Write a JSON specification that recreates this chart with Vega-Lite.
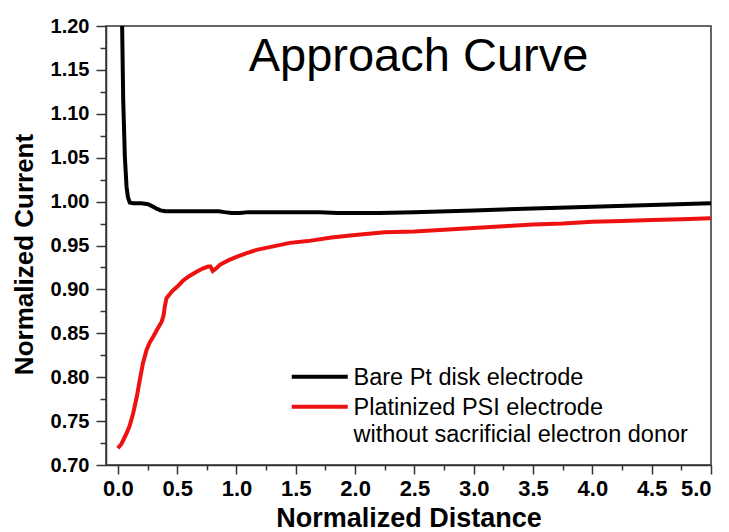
{
  "$schema": "https://vega.github.io/schema/vega-lite/v6.json",
  "width": 605,
  "height": 439,
  "autosize": "none",
  "padding": {"left": 106, "top": 26, "right": 18, "bottom": 67},
  "background": "white",
  "title": {
    "text": "Approach Curve",
    "font": "Liberation Sans",
    "fontSize": 47,
    "fontWeight": "normal",
    "color": "#000000",
    "anchor": "middle",
    "baseline": "alphabetic",
    "offset": -46,
    "dy": 56,
    "dx": 10
  },
  "config": {
    "view": {"stroke": "#333333", "strokeWidth": 1.5},
    "axis": {
      "domainColor": "#333333",
      "domainWidth": 1.5,
      "tickColor": "#333333",
      "tickWidth": 1.5,
      "grid": false,
      "labelFont": "Liberation Sans",
      "labelFontWeight": "bold",
      "labelFontSize": 20,
      "labelColor": "#000000",
      "titleFont": "Liberation Sans",
      "titleFontWeight": "bold",
      "titleFontSize": 25,
      "titleColor": "#000000",
      "labelOverlap": false
    }
  },
  "data": {
    "values": [
      {"series": "Bare Pt disk electrode", "d": 0.034, "i": 1.24},
      {"series": "Bare Pt disk electrode", "d": 0.036, "i": 1.2},
      {"series": "Bare Pt disk electrode", "d": 0.045, "i": 1.116},
      {"series": "Bare Pt disk electrode", "d": 0.059, "i": 1.051},
      {"series": "Bare Pt disk electrode", "d": 0.073, "i": 1.017},
      {"series": "Bare Pt disk electrode", "d": 0.085, "i": 1.005},
      {"series": "Bare Pt disk electrode", "d": 0.1, "i": 0.999},
      {"series": "Bare Pt disk electrode", "d": 0.129, "i": 0.998},
      {"series": "Bare Pt disk electrode", "d": 0.2, "i": 0.998},
      {"series": "Bare Pt disk electrode", "d": 0.255, "i": 0.997},
      {"series": "Bare Pt disk electrode", "d": 0.3, "i": 0.994},
      {"series": "Bare Pt disk electrode", "d": 0.326, "i": 0.992},
      {"series": "Bare Pt disk electrode", "d": 0.36, "i": 0.99},
      {"series": "Bare Pt disk electrode", "d": 0.4, "i": 0.989},
      {"series": "Bare Pt disk electrode", "d": 0.6, "i": 0.989},
      {"series": "Bare Pt disk electrode", "d": 0.85, "i": 0.989},
      {"series": "Bare Pt disk electrode", "d": 0.9, "i": 0.988},
      {"series": "Bare Pt disk electrode", "d": 0.96, "i": 0.987},
      {"series": "Bare Pt disk electrode", "d": 1.03, "i": 0.987},
      {"series": "Bare Pt disk electrode", "d": 1.1, "i": 0.988},
      {"series": "Bare Pt disk electrode", "d": 1.4, "i": 0.988},
      {"series": "Bare Pt disk electrode", "d": 1.7, "i": 0.988},
      {"series": "Bare Pt disk electrode", "d": 1.85, "i": 0.987},
      {"series": "Bare Pt disk electrode", "d": 2.2, "i": 0.987},
      {"series": "Bare Pt disk electrode", "d": 2.5, "i": 0.988},
      {"series": "Bare Pt disk electrode", "d": 3.0, "i": 0.99},
      {"series": "Bare Pt disk electrode", "d": 3.5, "i": 0.992},
      {"series": "Bare Pt disk electrode", "d": 4.0, "i": 0.994},
      {"series": "Bare Pt disk electrode", "d": 4.5, "i": 0.996},
      {"series": "Bare Pt disk electrode", "d": 5.0, "i": 0.998},
      {"series": "Platinized PSI electrode without sacrificial electron donor", "d": 0.0, "i": 0.719},
      {"series": "Platinized PSI electrode without sacrificial electron donor", "d": 0.03, "i": 0.724},
      {"series": "Platinized PSI electrode without sacrificial electron donor", "d": 0.073, "i": 0.736},
      {"series": "Platinized PSI electrode without sacrificial electron donor", "d": 0.1, "i": 0.745},
      {"series": "Platinized PSI electrode without sacrificial electron donor", "d": 0.129, "i": 0.759},
      {"series": "Platinized PSI electrode without sacrificial electron donor", "d": 0.16, "i": 0.778},
      {"series": "Platinized PSI electrode without sacrificial electron donor", "d": 0.185, "i": 0.797},
      {"series": "Platinized PSI electrode without sacrificial electron donor", "d": 0.21, "i": 0.815},
      {"series": "Platinized PSI electrode without sacrificial electron donor", "d": 0.242, "i": 0.831},
      {"series": "Platinized PSI electrode without sacrificial electron donor", "d": 0.27, "i": 0.84},
      {"series": "Platinized PSI electrode without sacrificial electron donor", "d": 0.298, "i": 0.846},
      {"series": "Platinized PSI electrode without sacrificial electron donor", "d": 0.33, "i": 0.854},
      {"series": "Platinized PSI electrode without sacrificial electron donor", "d": 0.368, "i": 0.863},
      {"series": "Platinized PSI electrode without sacrificial electron donor", "d": 0.385, "i": 0.87},
      {"series": "Platinized PSI electrode without sacrificial electron donor", "d": 0.395, "i": 0.88},
      {"series": "Platinized PSI electrode without sacrificial electron donor", "d": 0.41, "i": 0.89},
      {"series": "Platinized PSI electrode without sacrificial electron donor", "d": 0.44, "i": 0.895},
      {"series": "Platinized PSI electrode without sacrificial electron donor", "d": 0.466, "i": 0.899},
      {"series": "Platinized PSI electrode without sacrificial electron donor", "d": 0.5, "i": 0.903},
      {"series": "Platinized PSI electrode without sacrificial electron donor", "d": 0.55, "i": 0.91},
      {"series": "Platinized PSI electrode without sacrificial electron donor", "d": 0.6, "i": 0.915},
      {"series": "Platinized PSI electrode without sacrificial electron donor", "d": 0.663, "i": 0.92},
      {"series": "Platinized PSI electrode without sacrificial electron donor", "d": 0.72, "i": 0.924},
      {"series": "Platinized PSI electrode without sacrificial electron donor", "d": 0.76, "i": 0.926},
      {"series": "Platinized PSI electrode without sacrificial electron donor", "d": 0.78, "i": 0.926},
      {"series": "Platinized PSI electrode without sacrificial electron donor", "d": 0.8, "i": 0.921},
      {"series": "Platinized PSI electrode without sacrificial electron donor", "d": 0.83, "i": 0.924},
      {"series": "Platinized PSI electrode without sacrificial electron donor", "d": 0.86, "i": 0.928},
      {"series": "Platinized PSI electrode without sacrificial electron donor", "d": 0.93, "i": 0.933},
      {"series": "Platinized PSI electrode without sacrificial electron donor", "d": 1.0, "i": 0.937},
      {"series": "Platinized PSI electrode without sacrificial electron donor", "d": 1.08, "i": 0.941},
      {"series": "Platinized PSI electrode without sacrificial electron donor", "d": 1.17, "i": 0.945},
      {"series": "Platinized PSI electrode without sacrificial electron donor", "d": 1.31, "i": 0.949},
      {"series": "Platinized PSI electrode without sacrificial electron donor", "d": 1.45, "i": 0.953},
      {"series": "Platinized PSI electrode without sacrificial electron donor", "d": 1.6, "i": 0.955},
      {"series": "Platinized PSI electrode without sacrificial electron donor", "d": 1.8, "i": 0.959},
      {"series": "Platinized PSI electrode without sacrificial electron donor", "d": 2.0, "i": 0.962},
      {"series": "Platinized PSI electrode without sacrificial electron donor", "d": 2.25, "i": 0.965},
      {"series": "Platinized PSI electrode without sacrificial electron donor", "d": 2.5, "i": 0.966},
      {"series": "Platinized PSI electrode without sacrificial electron donor", "d": 2.75, "i": 0.968},
      {"series": "Platinized PSI electrode without sacrificial electron donor", "d": 3.0, "i": 0.97},
      {"series": "Platinized PSI electrode without sacrificial electron donor", "d": 3.25, "i": 0.972},
      {"series": "Platinized PSI electrode without sacrificial electron donor", "d": 3.5, "i": 0.974},
      {"series": "Platinized PSI electrode without sacrificial electron donor", "d": 3.75, "i": 0.975},
      {"series": "Platinized PSI electrode without sacrificial electron donor", "d": 4.0, "i": 0.977},
      {"series": "Platinized PSI electrode without sacrificial electron donor", "d": 4.25, "i": 0.978},
      {"series": "Platinized PSI electrode without sacrificial electron donor", "d": 4.5, "i": 0.979},
      {"series": "Platinized PSI electrode without sacrificial electron donor", "d": 4.75, "i": 0.98},
      {"series": "Platinized PSI electrode without sacrificial electron donor", "d": 5.0, "i": 0.981}
    ]
  },
  "mark": {"type": "line", "strokeWidth": 4, "clip": true, "interpolate": "linear"},
  "encoding": {
    "x": {
      "field": "d",
      "type": "quantitative",
      "title": "Normalized Distance",
      "scale": {"domain": [-0.1, 5.0], "nice": false, "zero": false},
      "axis": {
        "values": [0, 0.25, 0.5, 0.75, 1, 1.25, 1.5, 1.75, 2, 2.25, 2.5, 2.75, 3, 3.25, 3.5, 3.75, 4, 4.25, 4.5, 4.75, 5],
        "labelExpr": "abs(datum.value * 2 - round(datum.value * 2)) < 0.001 ? format(datum.value, '.1f') : ''",
        "tickSize": {"condition": {"test": "abs(datum.value * 2 - round(datum.value * 2)) < 0.001", "value": 9}, "value": 5},
        "labelFontSize": 22,
        "labelPadding": 4,
        "titleFontSize": 27,
        "titlePadding": 6
      }
    },
    "y": {
      "field": "i",
      "type": "quantitative",
      "title": "Normalized Current",
      "scale": {"domain": [0.7, 1.2], "nice": false, "zero": false},
      "axis": {
        "values": [0.7, 0.725, 0.75, 0.775, 0.8, 0.825, 0.85, 0.875, 0.9, 0.925, 0.95, 0.975, 1.0, 1.025, 1.05, 1.075, 1.1, 1.125, 1.15, 1.175, 1.2],
        "labelExpr": "abs(datum.value * 20 - round(datum.value * 20)) < 0.001 ? format(datum.value, '.2f') : ''",
        "tickSize": {"condition": {"test": "abs(datum.value * 20 - round(datum.value * 20)) < 0.001", "value": 10}, "value": 6},
        "labelPadding": 7,
        "titleFontSize": 26,
        "titlePadding": 13,
        "titleY": 228
      }
    },
    "color": {
      "field": "series",
      "type": "nominal",
      "scale": {
        "domain": ["Bare Pt disk electrode", "Platinized PSI electrode without sacrificial electron donor"],
        "range": ["#000000", "#ee1111"]
      },
      "legend": {
        "title": null,
        "orient": "none",
        "legendX": 202,
        "legendY": 339,
        "padding": 0,
        "symbolType": "M-4,0H4",
        "symbolSize": 196,
        "symbolStrokeWidth": 4,
        "labelFont": "Liberation Sans",
        "labelFontSize": 23.5,
        "labelColor": "#000000",
        "labelBaseline": "alphabetic",
        "labelOffset": 22,
        "labelLimit": 0,
        "rowPadding": 5,
        "labelExpr": "datum.label == 'Platinized PSI electrode without sacrificial electron donor' ? ['Platinized PSI electrode', 'without sacrificial electron donor'] : datum.label",
        "encode": {
          "labels": {"update": {"dy": {"value": 8}, "lineHeight": {"value": 27}}}
        }
      }
    }
  }
}
